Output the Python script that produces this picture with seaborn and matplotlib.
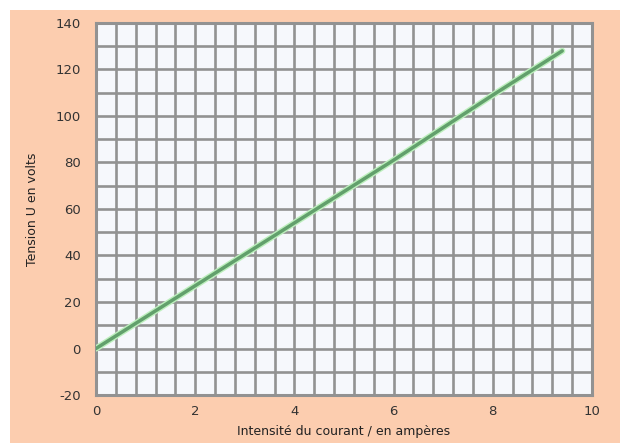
import matplotlib
matplotlib.use("Agg")
import matplotlib.pyplot as plt
import matplotlib.patheffects as pe
from matplotlib.patches import Rectangle
import seaborn as sns
import numpy as np
import pandas as pd

# Data
intensite = [0, 2, 4, 6, 8, 9.4]
tension = [0, 27, 54, 81, 109, 128]
xticks = [0, 2, 4, 6, 8, 10]
yticks = [-20, 0, 20, 40, 60, 80, 100, 120, 140]

sns.set_theme(style="white")
plt.rcParams['font.family'] = ['DejaVu Sans']
plt.rcParams['axes.unicode_minus'] = False

peach = "#FCCDAF"
gridc = "#929292"

fig = plt.figure(figsize=(6.2, 4.43), dpi=100, facecolor="white")
fig.patches.append(Rectangle((10/620, 0), 1, 1 - 10/443, transform=fig.transFigure,
                             facecolor=peach, edgecolor="none", zorder=-10))
ax = fig.add_axes([96/620, 1 - 395/443, (592 - 96)/620, (395 - 23)/443])
ax.set_facecolor("#F6F8FC")

df = pd.DataFrame({"I": intensite, "U": tension})
sns.lineplot(data=df, x="I", y="U", ax=ax, color="#62A06C", linewidth=2.5, zorder=5,
             path_effects=[pe.Stroke(linewidth=4.5, foreground="#BDEFBD"), pe.Normal()])

ax.set_xlim(0, 10)
ax.set_ylim(-20, 140)
ax.set_xticks(xticks)
ax.set_yticks(yticks)
ax.set_xticks(np.arange(0, 10.01, 0.4), minor=True)
ax.set_yticks(np.arange(-20, 140.1, 10), minor=True)
ax.grid(which="both", color=gridc, linewidth=1.9, zorder=1)
ax.set_axisbelow(True)
for s in ax.spines.values():
    s.set_color(gridc)
    s.set_linewidth(2.2)
ax.tick_params(which="both", length=0, labelsize=9.5, colors="#333333")
ax.tick_params(axis="y", pad=11)
ax.tick_params(axis="x", pad=7)
ax.set_xlabel("Intensité du courant / en ampères", fontsize=9, color="#222222", labelpad=5)
ax.set_ylabel("Tension U en volts", fontsize=9, color="#222222", labelpad=12)

fig.savefig("out.png", dpi=100, facecolor=fig.get_facecolor())
